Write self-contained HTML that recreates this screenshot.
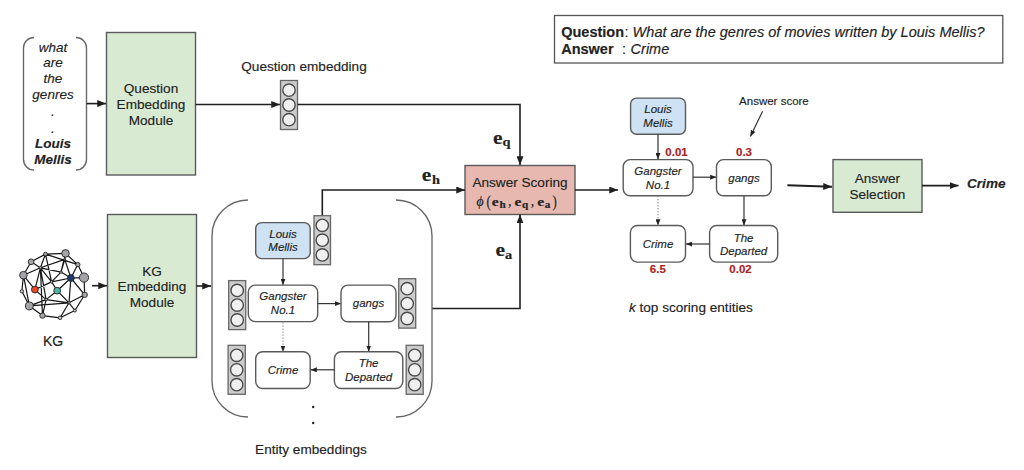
<!DOCTYPE html>
<html><head><meta charset="utf-8">
<style>
html,body{margin:0;padding:0;background:#fff;width:1024px;height:470px;overflow:hidden}
svg{display:block}
text{font-family:"Liberation Sans",sans-serif;fill:#222;stroke:#222;stroke-width:0.15}
.s{font-family:"Liberation Serif",serif}
.it{font-style:italic}
.b{font-weight:bold}
.box{stroke:#5a5a5a;stroke-width:1.4}
.ln{stroke:#1f1f1f;stroke-width:1.6;fill:none}
.tl{stroke:#333;stroke-width:1.2;fill:none}
.vb{fill:#cccccc;stroke:#666;stroke-width:1.3}
.vc{fill:#f0f0f0;stroke:#4a4a4a;stroke-width:1.4}
.red{fill:#a82222;stroke:#a82222;font-weight:bold;font-size:11.5px}
</style></head>
<body>
<svg width="1024" height="470" viewBox="0 0 1024 470">
<defs>
<marker id="ah" viewBox="0 0 10 8" refX="10" refY="4" markerWidth="8.8" markerHeight="7" markerUnits="userSpaceOnUse" orient="auto"><path d="M0,0 L10,4 L0,8 z" fill="#1f1f1f"/></marker>
<marker id="as" viewBox="0 0 10 8" refX="10" refY="4" markerWidth="6.2" markerHeight="5" markerUnits="userSpaceOnUse" orient="auto"><path d="M0,0 L10,4 L0,8 z" fill="#222"/></marker>
</defs>

<!-- Question bracket -->
<path class="tl" style="stroke:#666;stroke-width:1.35" d="M34,37.5 A10.5,10.5 0 0 0 23.5,48 L23.5,159.5 A10.5,10.5 0 0 0 34,170"/>
<path class="tl" style="stroke:#666;stroke-width:1.35" d="M76,37.5 A10.5,10.5 0 0 1 86.5,48 L86.5,159.5 A10.5,10.5 0 0 1 76,170"/>
<g class="it" font-size="13.5" text-anchor="middle">
<text x="53" y="51.5">what</text>
<text x="53" y="67.2">are</text>
<text x="53" y="82.9">the</text>
<text x="53" y="98.6">genres</text>
<text x="53" y="116">.</text>
<text x="53" y="132.5">.</text>
<text x="53" y="147.9" class="b">Louis</text>
<text x="53" y="163.8" class="b">Mellis</text>
</g>
<line class="ln" x1="86.5" y1="103.6" x2="106" y2="103.6" marker-end="url(#ah)"/>

<!-- Question Embedding Module -->
<rect class="box" x="106.5" y="32.5" width="89" height="142.5" fill="#d9ead3"/>
<g font-size="13.6" text-anchor="middle">
<text x="151" y="93.4">Question</text>
<text x="151" y="108.9">Embedding</text>
<text x="151" y="124.5">Module</text>
</g>
<line class="ln" x1="195.5" y1="104.5" x2="280" y2="104.5" marker-end="url(#ah)"/>

<text x="304" y="71.3" font-size="13.6" text-anchor="middle">Question embedding</text>
<rect class="vb" x="280.5" y="80.5" width="17" height="49"/>
<circle class="vc" cx="289" cy="90.2" r="6.2"/>
<circle class="vc" cx="289" cy="105" r="6.2"/>
<circle class="vc" cx="289" cy="119.7" r="6.2"/>
<path class="ln" d="M297.5,104.5 L520,104.5 L520,165" marker-end="url(#ah)"/>

<!-- e labels -->
<g fill="#1a1a1a">
<text transform="translate(421.80,180.90) scale(1.10,1)" font-size="19.50" style="font-family:'Liberation Serif',serif;font-weight:bold;">e</text>
<text transform="translate(431.90,184.20) scale(1.25,1)" font-size="11.50" style="font-family:'Liberation Serif',serif;font-weight:bold;">h</text>
<text transform="translate(493.00,143.50) scale(1.10,1)" font-size="19.50" style="font-family:'Liberation Serif',serif;font-weight:bold;">e</text>
<text transform="translate(502.40,146.20) scale(1.25,1)" font-size="11.50" style="font-family:'Liberation Serif',serif;font-weight:bold;">q</text>
<text transform="translate(495.50,256.00) scale(1.10,1)" font-size="19.50" style="font-family:'Liberation Serif',serif;font-weight:bold;">e</text>
<text transform="translate(505.00,258.80) scale(1.20,1)" font-size="12.00" style="font-family:'Liberation Serif',serif;font-weight:bold;">a</text>
</g>
<!-- Answer Scoring -->
<rect class="box" x="465" y="165.5" width="110" height="49" fill="#e6b8af"/>
<text x="520" y="187.2" font-size="13.6" text-anchor="middle">Answer Scoring</text>
<g style="fill:#2a2a2a">
<text transform="translate(476.40,205.80) scale(0.95,1)" font-size="14.50" style="font-family:'Liberation Serif',serif;font-style:italic;">ϕ</text>
<text transform="translate(486.60,206.50) scale(0.80,1)" font-size="16.00" style="font-family:'Liberation Serif',serif;">(</text>
<text transform="translate(491.80,205.50) scale(1.30,1)" font-size="12.00" style="font-family:'Liberation Serif',serif;font-weight:bold;">e</text>
<text transform="translate(499.40,208.30) scale(1.20,1)" font-size="9.30" style="font-family:'Liberation Serif',serif;font-weight:bold;">h</text>
<text transform="translate(508.00,205.50) scale(1.00,1)" font-size="14.00" style="font-family:'Liberation Serif',serif;">,</text>
<text transform="translate(514.50,205.50) scale(1.30,1)" font-size="12.00" style="font-family:'Liberation Serif',serif;font-weight:bold;">e</text>
<text transform="translate(522.00,208.20) scale(1.20,1)" font-size="9.30" style="font-family:'Liberation Serif',serif;font-weight:bold;">q</text>
<text transform="translate(530.70,205.50) scale(1.00,1)" font-size="14.00" style="font-family:'Liberation Serif',serif;">,</text>
<text transform="translate(537.30,205.50) scale(1.30,1)" font-size="12.00" style="font-family:'Liberation Serif',serif;font-weight:bold;">e</text>
<text transform="translate(544.80,208.30) scale(1.20,1)" font-size="9.30" style="font-family:'Liberation Serif',serif;font-weight:bold;">a</text>
<text transform="translate(552.60,206.50) scale(0.80,1)" font-size="16.00" style="font-family:'Liberation Serif',serif;">)</text>
</g>

<path class="ln" d="M322.3,215.7 L322.3,190 L465,190" marker-end="url(#ah)"/>
<path class="ln" d="M432,308.5 L520,308.5 L520,214.5" marker-end="url(#ah)"/>
<line class="ln" x1="575" y1="190" x2="618" y2="190" marker-end="url(#ah)"/>

<!-- KG -->
<g id="kg">
<g stroke="#151515" stroke-width="1.2" fill="none">
<path d="M45.5,254.1L65.5,253.4M45.5,254.1L77.8,264.6M45.5,254.1L31.1,261.8M45.5,254.1L40.4,267.8M45.5,254.1L51.6,281.9M31.1,261.8L40.4,267.8M31.1,261.8L23.4,275.2M23.4,275.2L40.4,267.8M40.4,267.8L64.8,259.4M40.4,267.8L61.0,272.1M40.4,267.8L34.9,289.6M40.4,267.8L51.6,281.9M23.4,275.2L34.9,289.6M23.4,275.2L21.9,291.3M23.4,275.2L29.4,305.9M65.5,253.4L77.8,264.6M65.5,253.4L64.8,259.4M64.8,259.4L70.9,278.0M64.8,259.4L61.0,272.1M77.8,264.6L70.9,278.0M77.8,264.6L84.0,277.6M61.0,272.1L70.9,278.0M51.6,281.9L70.9,278.0M57.2,290.7L70.9,278.0M70.9,278.0L84.0,277.6M70.9,278.0L69.0,302.8M70.9,278.0L84.7,294.8M84.0,277.6L84.7,294.8M51.6,281.9L34.9,289.6M51.6,281.9L57.2,290.7M34.9,289.6L46.1,299.6M46.1,299.6L57.2,290.7M29.4,305.9L46.1,299.6M29.4,305.9L42.5,315.6M29.4,305.9L69.0,302.8M42.5,315.6L60.1,317.8M42.5,315.6L46.1,299.6M21.9,291.3L29.4,305.9M69.0,302.8L57.2,290.7M69.0,302.8L84.7,294.8M84.7,294.8L74.9,310.5M69.0,302.8L74.9,310.5M69.0,302.8L60.1,317.8M74.9,310.5L60.1,317.8M46.1,299.6L69.0,302.8M40.4,267.8L42.5,315.6M65.5,253.4L61.0,272.1M40.4,267.8L46.1,299.6M61.0,272.1L51.6,281.9"/>
</g><g stroke="#222" stroke-width="0.9">
<circle cx="45.5" cy="254.1" r="1.9" fill="#a3a3a8"/>
<circle cx="65.5" cy="253.4" r="3.8" fill="#a3a3a8"/>
<circle cx="31.1" cy="261.8" r="2.9" fill="#a3a3a8"/>
<circle cx="77.8" cy="264.6" r="2.2" fill="#a3a3a8"/>
<circle cx="40.4" cy="267.8" r="1.2" fill="#c8c8c8"/>
<circle cx="23.4" cy="275.2" r="3.8" fill="#a3a3a8"/>
<circle cx="61.0" cy="272.1" r="1.2" fill="#c8c8c8"/>
<circle cx="64.8" cy="259.4" r="0.8" fill="#c8c8c8"/>
<circle cx="70.9" cy="278.0" r="3.4" fill="#1d3d6e"/>
<circle cx="84.0" cy="277.6" r="4.6" fill="#a3a3a8"/>
<circle cx="51.6" cy="281.9" r="1.2" fill="#c8c8c8"/>
<circle cx="34.9" cy="289.6" r="3.4" fill="#f04a22"/>
<circle cx="57.2" cy="290.7" r="3.4" fill="#4db5a3"/>
<circle cx="21.9" cy="291.3" r="1.7" fill="#c8c8c8"/>
<circle cx="84.7" cy="294.8" r="2.7" fill="#a3a3a8"/>
<circle cx="46.1" cy="299.6" r="1.2" fill="#c8c8c8"/>
<circle cx="69.0" cy="302.8" r="1.2" fill="#c8c8c8"/>
<circle cx="29.4" cy="305.9" r="4.0" fill="#a3a3a8"/>
<circle cx="74.9" cy="310.5" r="1.5" fill="#c8c8c8"/>
<circle cx="42.5" cy="315.6" r="2.7" fill="#a3a3a8"/>
<circle cx="60.1" cy="317.8" r="1.8" fill="#c8c8c8"/>
</g>

</g>
<text x="53" y="346.4" font-size="14" text-anchor="middle">KG</text>
<line class="ln" x1="92" y1="285.7" x2="107" y2="285.7" marker-end="url(#ah)"/>
<rect class="box" x="107.5" y="214.5" width="89" height="143" fill="#d9ead3"/>
<g font-size="13.6" text-anchor="middle">
<text x="152" y="275.5">KG</text>
<text x="152" y="291">Embedding</text>
<text x="152" y="306.6">Module</text>
</g>
<line class="ln" x1="196.5" y1="286" x2="211" y2="286" marker-end="url(#ah)"/>

<!-- Entity bracket -->
<path class="tl" style="stroke:#666;stroke-width:1.35" d="M248,200 A36,36 0 0 0 212,236 L212,381 A36,36 0 0 0 248,417"/>
<path class="tl" style="stroke:#666;stroke-width:1.35" d="M396,200 A36,36 0 0 1 432,236 L432,381 A36,36 0 0 1 396,417"/>

<rect class="box" x="255.7" y="222.6" width="54.5" height="36" rx="6" fill="#cfe2f3"/>
<g class="it" font-size="11.5" text-anchor="middle">
<text x="283" y="237.9">Louis</text>
<text x="283" y="251.3">Mellis</text>
</g>
<rect class="vb" x="314" y="215.7" width="16.5" height="49"/>
<circle class="vc" cx="322.3" cy="225.3" r="6.2"/>
<circle class="vc" cx="322.3" cy="240.2" r="6.2"/>
<circle class="vc" cx="322.3" cy="254.9" r="6.2"/>
<line class="tl" x1="283" y1="258.7" x2="283" y2="285" marker-end="url(#as)"/>

<rect class="vb" x="228.7" y="280.6" width="17" height="49"/>
<circle class="vc" cx="237.2" cy="290.4" r="6.2"/>
<circle class="vc" cx="237.2" cy="305.1" r="6.2"/>
<circle class="vc" cx="237.2" cy="320" r="6.2"/>

<rect class="box" x="248.3" y="285.1" width="69.4" height="36.5" rx="7" fill="#fff"/>
<g class="it" font-size="11.5" text-anchor="middle">
<text x="283" y="300.4">Gangster</text>
<text x="283" y="314.3">No.1</text>
</g>
<line class="tl" x1="317.7" y1="303.6" x2="341" y2="303.6" marker-end="url(#as)"/>
<rect class="box" x="341" y="285.1" width="55" height="36.6" rx="7" fill="#fff"/>
<text class="it" x="368.5" y="307.2" font-size="11.5" text-anchor="middle">gangs</text>
<rect class="vb" x="398.7" y="278.7" width="17" height="49.4"/>
<circle class="vc" cx="407.2" cy="288.7" r="6.2"/>
<circle class="vc" cx="407.2" cy="303.6" r="6.2"/>
<circle class="vc" cx="407.2" cy="318.5" r="6.2"/>

<line class="tl" x1="283" y1="322.5" x2="283" y2="351.7" stroke-dasharray="1.3,1.7" style="stroke:#888;stroke-width:1.1" marker-end="url(#as)"/>
<line class="tl" x1="368.7" y1="321.7" x2="368.7" y2="351.7" marker-end="url(#as)"/>

<rect class="vb" x="228.1" y="345.3" width="17.2" height="49"/>
<circle class="vc" cx="236.7" cy="355.3" r="6.2"/>
<circle class="vc" cx="236.7" cy="369.8" r="6.2"/>
<circle class="vc" cx="236.7" cy="384.7" r="6.2"/>
<rect class="box" x="255.7" y="351.7" width="54.5" height="36.8" rx="7" fill="#fff"/>
<text class="it" x="283" y="374" font-size="11.5" text-anchor="middle">Crime</text>
<rect class="box" x="334.4" y="351.7" width="68.4" height="36.8" rx="7" fill="#fff"/>
<g class="it" font-size="11.5" text-anchor="middle">
<text x="368.6" y="367.2">The</text>
<text x="368.6" y="380.9">Departed</text>
</g>
<line class="tl" x1="334.4" y1="369.8" x2="310.6" y2="369.8" marker-end="url(#as)"/>
<rect class="vb" x="406.2" y="345.3" width="17" height="49"/>
<circle class="vc" cx="414.7" cy="355.3" r="6.2"/>
<circle class="vc" cx="414.7" cy="369.8" r="6.2"/>
<circle class="vc" cx="414.7" cy="384.7" r="6.2"/>
<circle cx="313.2" cy="407" r="1.2" fill="#222"/>
<circle cx="313.2" cy="423" r="1.2" fill="#222"/>
<text x="311" y="453.9" font-size="13.6" text-anchor="middle">Entity embeddings</text>

<!-- QA box -->
<rect x="554.5" y="15.5" width="448.3" height="47.5" fill="#fff" stroke="#555" stroke-width="1.3"/>
<g font-size="14.5">
<text class="b" x="561.2" y="36.6">Question</text>
<text x="624.4" y="36.6">:</text>
<text id="qit" class="it" x="632.6" y="36.6" textLength="352" lengthAdjust="spacingAndGlyphs">What are the genres of movies written by Louis Mellis?</text>
<text class="b" x="561.2" y="54.2">Answer</text>
<text x="622" y="54.2">:</text>
<text class="it" x="630.6" y="54.2">Crime</text>
</g>

<!-- Right graph -->
<rect class="box" x="630.6" y="98.1" width="54.9" height="36.2" rx="6" fill="#cfe2f3"/>
<g class="it" font-size="11.5" text-anchor="middle">
<text x="658" y="113.4">Louis</text>
<text x="658" y="127.2">Mellis</text>
</g>
<line class="tl" x1="658" y1="134.3" x2="658" y2="159.3" marker-end="url(#as)"/>
<text class="red" x="665.3" y="155.5">0.01</text>
<text class="red" x="736" y="155.5">0.3</text>
<text x="739.1" y="104.9" font-size="11.5">Answer score</text>
<line class="tl" x1="762.6" y1="111.3" x2="750.4" y2="136.4" marker-end="url(#as)"/>

<rect class="box" x="623.2" y="159.6" width="69.8" height="36.1" rx="7" fill="#fff"/>
<g class="it" font-size="11.5" text-anchor="middle">
<text x="658" y="175.1">Gangster</text>
<text x="658" y="189">No.1</text>
</g>
<line class="tl" x1="693" y1="177.2" x2="716.4" y2="177.2" marker-end="url(#as)"/>
<rect class="box" x="716.5" y="159.6" width="54.8" height="36.1" rx="7" fill="#fff"/>
<text class="it" x="744" y="181.5" font-size="11.5" text-anchor="middle">gangs</text>
<line class="tl" x1="658" y1="196" x2="658" y2="225.5" stroke-dasharray="1.3,1.7" style="stroke:#888;stroke-width:1.1" marker-end="url(#as)"/>
<line class="tl" x1="744" y1="195.7" x2="744" y2="225.5" marker-end="url(#as)"/>
<rect class="box" x="630.4" y="225.5" width="55.1" height="36.6" rx="7" fill="#fff"/>
<text class="it" x="658" y="248.3" font-size="11.5" text-anchor="middle">Crime</text>
<rect class="box" x="709.6" y="225.5" width="68.1" height="36.6" rx="7" fill="#fff"/>
<g class="it" font-size="11.5" text-anchor="middle">
<text x="743.6" y="241.5">The</text>
<text x="743.6" y="255.3">Departed</text>
</g>
<line class="tl" x1="709.6" y1="244" x2="686" y2="244" marker-end="url(#as)"/>
<text class="red" x="657.8" y="273.4" text-anchor="middle">6.5</text>
<text class="red" x="740.5" y="273.4" text-anchor="middle">0.02</text>
<text x="628.9" y="312.2" font-size="13.6"><tspan class="it">k</tspan> top scoring entities</text>

<line class="ln" x1="787.4" y1="185.3" x2="832" y2="186.8" style="stroke-width:2" marker-end="url(#ah)"/>
<rect class="box" x="833" y="159.6" width="89" height="52.7" fill="#d9ead3"/>
<g font-size="13.6" text-anchor="middle">
<text x="877.4" y="182.6">Answer</text>
<text x="877.4" y="198.5">Selection</text>
</g>
<line class="ln" x1="922" y1="185.6" x2="958.5" y2="185.6" marker-end="url(#ah)"/>
<text class="b it" x="967" y="187.9" font-size="13.6">Crime</text>
</svg>
</body></html>
